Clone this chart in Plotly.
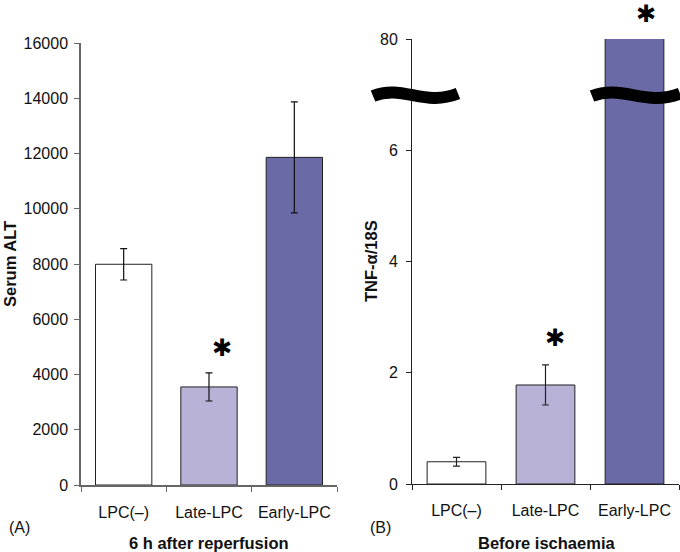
import plotly.graph_objects as go

categories = ["LPC(–)", "Late-LPC", "Early-LPC"]
alt_values = [7990, 3550, 11860]
alt_errors = [570, 510, 2010]
tnf_values = [0.40, 1.78, 80]
tnf_errors = [0.08, 0.36, None]
bar_colors = ["#ffffff", "#b7b2d6", "#6a6aa6"]
alt_ticks = [0, 2000, 4000, 6000, 8000, 10000, 12000, 14000, 16000]
tnf_tickvals = [0, 2, 4, 6, 8]
tnf_ticktext = ["0", "2", "4", "6", "80"]

W, H = 680, 552
ML, MR, MT, MB = 81, 1, 39, 67
PW = W - ML - MR
PH = H - MT - MB
FONT = "Liberation Sans, Arial, sans-serif"


def px(x):
    return (x - ML) / PW


def py(y):
    return (H - MB - y) / PH


fig = go.Figure()
fig.add_trace(go.Bar(
    x=categories, y=alt_values, width=0.66,
    marker=dict(color=bar_colors, line=dict(color="#222222", width=1)),
    error_y=dict(type="data", array=alt_errors, color="#111111", thickness=1.2, width=3.5),
    xaxis="x", yaxis="y", showlegend=False,
))
fig.add_trace(go.Bar(
    x=categories, y=tnf_values, width=0.66,
    marker=dict(color=bar_colors, line=dict(color="#222222", width=1)),
    error_y=dict(type="data", array=[e if e is not None else 0 for e in tnf_errors],
                 color="#222222", thickness=1.2, width=3.5),
    xaxis="x2", yaxis="y2", showlegend=False,
))

axis_common = dict(showgrid=False, zeroline=False, ticks="outside", ticklen=5,
                   tickfont=dict(family=FONT, size=16, color="#111111"))

fig.update_layout(
    width=W, height=H,
    margin=dict(l=ML, r=MR, t=MT, b=MB),
    paper_bgcolor="white", plot_bgcolor="white",
    bargap=0.34,
    xaxis=dict(domain=[0, px(337)], anchor="y", type="category", tickson="boundaries",
               showline=True, linecolor="#666666", linewidth=1.5, tickcolor="#666666",
               ticklabelstandoff=12, **axis_common),
    yaxis=dict(domain=[py(485), py(43)], anchor="x", range=[0, 16000], tickvals=alt_ticks,
               tickformat="d",
               showline=True, linecolor="#666666", linewidth=1.5, tickcolor="#666666",
               ticklabelstandoff=3, **axis_common),
    xaxis2=dict(domain=[px(412), 1], anchor="y2", type="category", tickson="boundaries",
                showline=True, linecolor="#222222", linewidth=1, tickcolor="#222222",
                ticklabelstandoff=12, **axis_common),
    yaxis2=dict(domain=[py(484), 1], anchor="x2", range=[0, 8], tickvals=tnf_tickvals,
                ticktext=tnf_ticktext,
                showline=True, linecolor="#222222", linewidth=1, tickcolor="#222222",
                ticklabelstandoff=5, **axis_common),
)

ann = []
tfont = dict(family=FONT, size=16, color="#111111")
bfont = dict(family=FONT, size=16.5, color="#111111", weight="bold")
ann.append(dict(text="6 h after reperfusion", x=px(209), y=py(543), xref="paper", yref="paper",
                showarrow=False, font=bfont, xanchor="center", yanchor="middle"))
ann.append(dict(text="Before ischaemia", x=px(546), y=py(543), xref="paper", yref="paper",
                showarrow=False, font=bfont, xanchor="center", yanchor="middle"))
ann.append(dict(text="(A)", x=px(19), y=py(527), xref="paper", yref="paper",
                showarrow=False, font=tfont, xanchor="center", yanchor="middle"))
ann.append(dict(text="(B)", x=px(380), y=py(527), xref="paper", yref="paper",
                showarrow=False, font=tfont, xanchor="center", yanchor="middle"))
ann.append(dict(text="Serum ALT", x=px(10), y=py(264), xref="paper", yref="paper",
                showarrow=False, font=bfont, textangle=-90, xanchor="center", yanchor="middle"))
ann.append(dict(text="TNF-α/18S", x=px(371), y=py(261), xref="paper", yref="paper",
                showarrow=False, font=bfont, textangle=-90, xanchor="center", yanchor="middle"))

star_font = dict(family="DejaVu Sans", size=24, color="black")
ann.append(dict(text="✱", x=1.15, y=4960, xref="x", yref="y", showarrow=False,
                font=star_font, xanchor="center", yanchor="middle"))
ann.append(dict(text="✱", x=1.11, y=2.62, xref="x2", yref="y2", showarrow=False,
                font=star_font, xanchor="center", yanchor="middle"))
ann.append(dict(text="✱", x=2.13, y=8, xref="x2", yref="y2", showarrow=False, yshift=25,
                font=star_font, xanchor="center", yanchor="middle"))
fig.update_layout(annotations=ann)


def tilde(x0, x1, yc):
    w = x1 - x0
    return "M {:.4f},{:.4f} C {:.4f},{:.4f} {:.4f},{:.4f} {:.4f},{:.4f}".format(
        px(x0), py(yc + 1), px(x0 + 0.35 * w), py(yc - 11), px(x0 + 0.6 * w), py(yc + 12),
        px(x1), py(yc - 1.5))


for (a, b) in [(373, 458), (592, 680)]:
    fig.add_shape(type="path", path=tilde(a, b, 95), xref="paper", yref="paper",
                  line=dict(color="black", width=12), layer="above")

fig.write_html("out.html", config={"displayModeBar": False},
               post_script="document.body.style.margin='0';document.body.style.overflow='hidden';")
